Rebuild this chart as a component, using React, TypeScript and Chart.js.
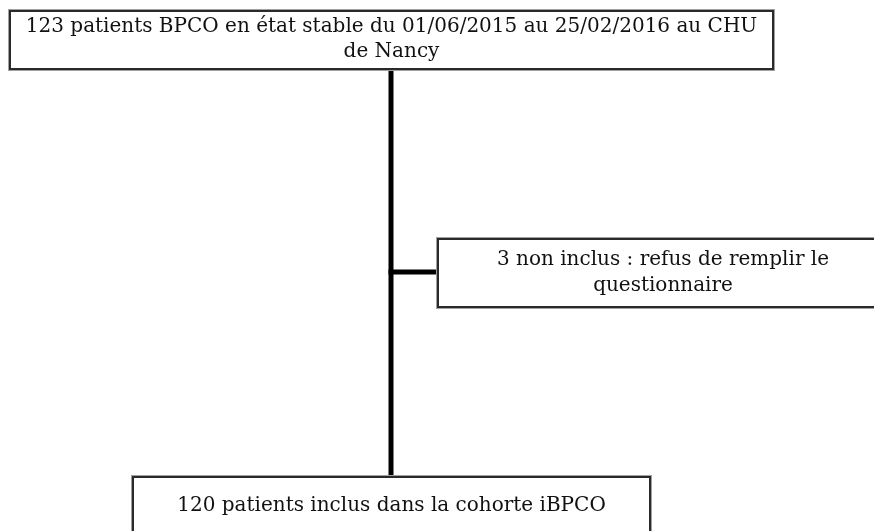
import React, { useEffect, useRef } from "react";
import { Chart, registerables } from "chart.js";

Chart.register(...registerables);

// ---- Data (flow chart content) ----
const nodeIds = ["screened", "excluded", "included"];
const nodeCounts = [123, 3, 120];
const nodeLines = [
  ["123 patients BPCO en état stable du 01/06/2015 au 25/02/2016 au CHU", "de Nancy"],
  ["3 non inclus : refus de remplir le", "questionnaire"],
  ["120 patients inclus dans la cohorte iBPCO"],
];
const links = [
  ["screened", "included"],
  ["screened", "excluded"],
];

// ---- Layout (in plot units, 1 unit = 1 px of the 874x531 frame) ----
const layout: Record<string, { x0: number; x1: number; y0: number; y1: number; textY: number[] }> = {
  screened: { x0: 10, x1: 773, y0: 11, y1: 69, textY: [27, 52] },
  excluded: { x0: 438, x1: 888, y0: 239, y1: 307, textY: [260, 286] },
  included: { x0: 133, x1: 650, y0: 477, y1: 560, textY: [506] },
};
const trunkX = 391;
const branchY = 272;

const flowPlugin = {
  id: "flow",
  afterDraw(chart: any) {
    const { ctx, scales } = chart;
    const X = (v: number) => scales.x.getPixelForValue(v);
    const Y = (v: number) => scales.y.getPixelForValue(v);
    ctx.save();
    ctx.fillStyle = "#ffffff";
    ctx.fillRect(0, 0, chart.width, chart.height);

    // connectors
    ctx.strokeStyle = "#000000";
    ctx.lineWidth = 5;
    ctx.lineCap = "butt";
    links.forEach(([from, to]) => {
      const a = layout[from];
      const b = layout[to];
      ctx.beginPath();
      if (b.y0 > a.y1 && b.x0 < trunkX) {
        ctx.moveTo(X(trunkX), Y(a.y1));
        ctx.lineTo(X(trunkX), Y(b.y0));
      } else {
        ctx.moveTo(X(trunkX - 2.5), Y(branchY));
        ctx.lineTo(X(b.x0), Y(branchY));
      }
      ctx.stroke();
    });

    // boxes
    nodeIds.forEach((id, i) => {
      const b = layout[id];
      const l = X(b.x0), r = X(b.x1), t = Y(b.y0), bt = Y(b.y1);
      ctx.fillStyle = "#ffffff";
      ctx.fillRect(l, t, r - l, bt - t);
      ctx.strokeStyle = "#a0a0a0";
      ctx.lineWidth = 1;
      ctx.strokeRect(l - 1.5, t - 1.5, r - l + 3, bt - t + 3);
      ctx.strokeStyle = "#2a2a2a";
      ctx.lineWidth = 2;
      ctx.strokeRect(l, t, r - l, bt - t);

      ctx.fillStyle = "#111111";
      ctx.font = "20px 'DejaVu Serif'";
      ctx.textAlign = "center";
      ctx.textBaseline = "middle";
      const cx = (l + Math.min(r, X(b.x1))) / 2;
      nodeLines[i].forEach((line, k) => {
        ctx.fillText(line, cx, Y(b.textY[k]));
      });
    });
    ctx.restore();
  },
};

export default function App() {
  const ref = useRef<HTMLCanvasElement | null>(null);
  useEffect(() => {
    if (!ref.current) return;
    const chart = new Chart(ref.current, {
      type: "scatter",
      data: {
        datasets: [
          {
            label: "patients",
            data: nodeIds.map((id, i) => ({ x: (layout[id].x0 + layout[id].x1) / 2, y: (layout[id].y0 + layout[id].y1) / 2, n: nodeCounts[i] })) as any,
            pointRadius: 0,
            showLine: false,
          },
        ],
      },
      options: {
        animation: false,
        responsive: false,
        maintainAspectRatio: false,
        layout: { padding: 0 },
        plugins: { legend: { display: false }, tooltip: { enabled: false } },
        scales: {
          x: { type: "linear", min: 0, max: 874, display: false },
          y: { type: "linear", min: 0, max: 531, reverse: true, display: false },
        },
      },
      plugins: [flowPlugin],
    });
    return () => chart.destroy();
  }, []);
  return (
    <div style={{ position: "fixed", left: 0, top: 0, width: 874, height: 531, background: "#fff" }}>
      <canvas ref={ref} width={874} height={531} style={{ display: "block", width: 874, height: 531 }} />
    </div>
  );
}
